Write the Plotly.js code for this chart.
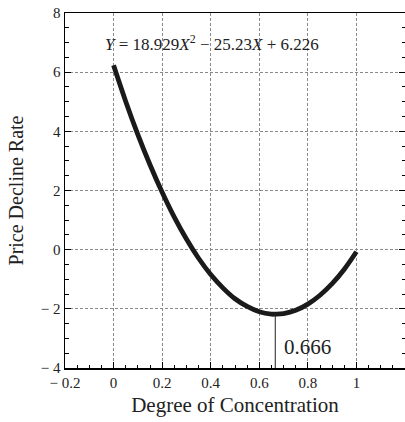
<!DOCTYPE html>
<html>
<head>
<meta charset="utf-8">
<script src="https://cdn.plot.ly/plotly-3.0.1.min.js"></script>
<style>html,body{margin:0;padding:0;background:#fff;}#chart{width:405px;height:422px;}</style>
</head>
<body>
<div id="chart"></div>
<script>
// Curve
var concentration = [0, 0.05, 0.1, 0.15, 0.2, 0.25, 0.3, 0.35, 0.4, 0.45, 0.5, 0.55, 0.6, 0.65, 0.666, 0.7, 0.75, 0.8, 0.85, 0.9, 0.95, 1.0];
var declineRate = [6.23, 5.01, 3.89, 2.87, 1.94, 1.10, 0.36, -0.29, -0.84, -1.29, -1.66, -1.92, -2.10, -2.18, -2.18, -2.16, -2.05, -1.84, -1.54, -1.15, -0.66, -0.07];
// Marker line at the minimum
var minX = [0.666, 0.666];
var minY = [-4, -2.18];
var minLabel = "0.666";
var equation = "<i>Y</i> = 18.929<i>X</i><sup>2</sup> − 25.23<i>X</i> + 6.226";
var xTickVals = [-0.2, 0, 0.2, 0.4, 0.6, 0.8, 1];
var xTickText = ["− 0.2", "0", "0.2", "0.4", "0.6", "0.8", "1"];
var yTickVals = [-4, -2, 0, 2, 4, 6, 8];
var yTickText = ["− 4", "− 2", "0", "2", "4", "6", "8"];

var font = "Liberation Serif";
var traces = [
  {x: minX, y: minY, mode: "lines", line: {color: "#444", width: 1.2}, hoverinfo: "skip", showlegend: false},
  {x: concentration, y: declineRate, mode: "lines", line: {color: "#1a1a1a", width: 4.8, shape: "spline"}, showlegend: false}
];
var axisCommon = {
  showline: true, linecolor: "#000", linewidth: 1.5,
  ticks: "inside", ticklen: 6, tickwidth: 1, tickcolor: "#000",
  showgrid: true, gridcolor: "#8a8a8a", griddash: "3px,2px", gridwidth: 1,
  zeroline: false, tickfont: {family: font, size: 15, color: "#222"}
};
var layout = {
  width: 405, height: 422,
  margin: {l: 65, r: 0, t: 13, b: 54},
  paper_bgcolor: "#fff", plot_bgcolor: "#fff",
  font: {family: font, color: "#222"},
  xaxis: Object.assign({}, axisCommon, {
    mirror: true,
    range: [-0.2, 1.2], tickmode: "array", tickvals: xTickVals, ticktext: xTickText,
    minor: {ticks: "inside", dtick: 0.05, ticklen: 3.5, tickcolor: "#000", showgrid: false},
    title: {text: "Degree of Concentration", font: {family: font, size: 21, color: "#222"}, standoff: 8}
  }),
  yaxis: Object.assign({}, axisCommon, {
    mirror: "ticks",
    range: [-4, 8], tickmode: "array", tickvals: yTickVals, ticktext: yTickText,
    minor: {ticks: "inside", dtick: 0.5, ticklen: 3.5, tickcolor: "#000", showgrid: false},
    title: {text: "Price Decline Rate", font: {family: font, size: 20, color: "#222"}, standoff: 12}
  }),
  annotations: [
    {x: -0.045, y: 6.99, xref: "x", yref: "y", text: equation, showarrow: false, xanchor: "left",
     font: {family: font, size: 17, color: "#222"}},
    {x: 0.695, y: -3.3, xref: "x", yref: "y", text: minLabel, showarrow: false, xanchor: "left",
     font: {family: font, size: 21, color: "#222"}}
  ]
};
Plotly.newPlot("chart", traces, layout, {displayModeBar: false, staticPlot: true});
</script>
</body>
</html>
